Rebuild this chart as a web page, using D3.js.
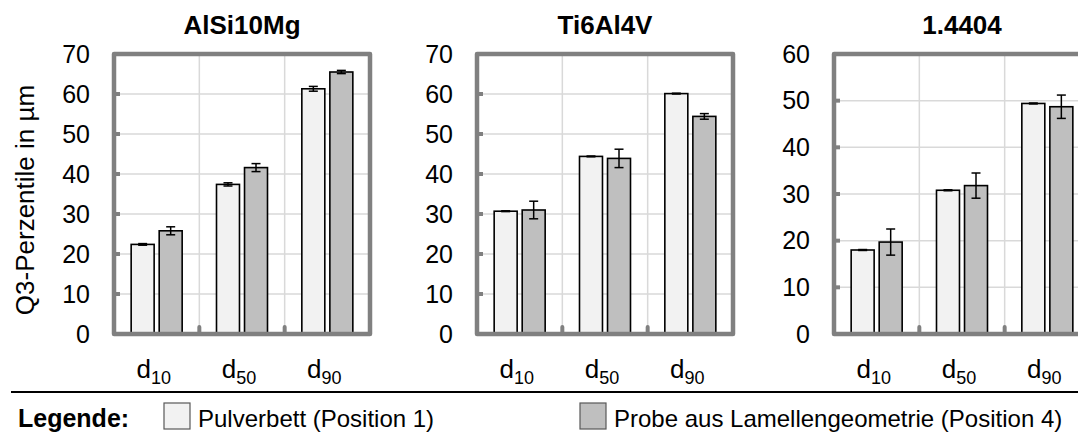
<!doctype html>
<html>

<head>
    <title>Q3-Perzentile</title>
    <script src="https://cdn.jsdelivr.net/npm/d3@7"></script>
    <style>
        body { margin: 0; background: #fff; }
        text { font-family: "Liberation Sans", Arial, sans-serif; fill: #000; }
    </style>
</head>

<body>
    <svg width="1078" height="435"></svg>
    <script>
        // data
        var materials = ["AlSi10Mg", "Ti6Al4V", "1.4404"];
        var categories = ["10", "50", "90"];          // d-subscripts
        var yMax = [70, 70, 60];
        var seriesNames = ["Pulverbett (Position 1)", "Probe aus Lamellengeometrie (Position 4)"];

        var pulverbett = [[22.4, 37.4, 61.3], [30.7, 44.4, 60.1], [18.0, 30.8, 49.4]];
        var pulverbettErr = [[0.2, 0.4, 0.6], [0.1, 0.1, 0.1], [0.1, 0.1, 0.1]];
        var probe = [[25.8, 41.6, 65.5], [31.0, 43.9, 54.4], [19.7, 31.8, 48.7]];
        var probeErr = [[1.0, 1.0, 0.4], [2.2, 2.3, 0.7], [2.8, 2.7, 2.5]];

        var colors = ["#f2f2f2", "#bfbfbf"];
        var frameColor = "#808080";

        var svg = d3.select("svg");
        var panelLeft = [114, 477, 834],
            panelW = 256,
            plotTop = 54,
            plotBottom = 334;

        materials.forEach(function (mat, i) {
            var g = svg.append("g").attr("transform", "translate(" + panelLeft[i] + ",0)");

            var x = d3.scaleBand().domain(categories).range([0, panelW]);
            var xs = d3.scaleBand().domain([0, 1]).range([x.bandwidth() / 2 - 25.5, x.bandwidth() / 2 + 25.5]).paddingInner(0.18);
            var y = d3.scaleLinear().domain([0, yMax[i]]).range([plotBottom, plotTop]);
            var ticks = d3.range(0, yMax[i] + 1, 10);

            // grid
            g.selectAll(".hgrid").data(ticks.slice(1, -1)).enter().append("line")
                .attr("x1", 0).attr("x2", panelW)
                .attr("y1", function (d) { return y(d); }).attr("y2", function (d) { return y(d); })
                .attr("stroke", "#d9d9d9").attr("stroke-width", 1.5);
            g.selectAll(".vgrid").data(categories.slice(1)).enter().append("line")
                .attr("x1", function (d) { return x(d); }).attr("x2", function (d) { return x(d); })
                .attr("y1", plotTop).attr("y2", plotBottom)
                .attr("stroke", "#d9d9d9").attr("stroke-width", 1.5);

            // bars
            var rows = categories.map(function (c, k) {
                return [
                    { cat: c, s: 0, v: pulverbett[i][k], e: pulverbettErr[i][k] },
                    { cat: c, s: 1, v: probe[i][k], e: probeErr[i][k] }
                ];
            });
            var bars = d3.merge(rows);

            g.selectAll(".bar").data(bars).enter().append("rect")
                .attr("x", function (d) { return x(d.cat) + xs(d.s); })
                .attr("y", function (d) { return y(d.v); })
                .attr("width", xs.bandwidth())
                .attr("height", function (d) { return plotBottom - y(d.v); })
                .attr("fill", function (d) { return colors[d.s]; })
                .attr("stroke", "#000").attr("stroke-width", 1.6);

            // error bars
            var eb = g.selectAll(".err").data(bars).enter().append("g")
                .attr("transform", function (d) { return "translate(" + (x(d.cat) + xs(d.s) + xs.bandwidth() / 2) + ",0)"; })
                .attr("stroke", "#000").attr("stroke-width", 1.5);
            eb.append("line").attr("x1", 0).attr("x2", 0)
                .attr("y1", function (d) { return y(d.v + d.e); })
                .attr("y2", function (d) { return y(d.v - d.e); });
            eb.append("line").attr("x1", -4.5).attr("x2", 4.5)
                .attr("y1", function (d) { return y(d.v + d.e); })
                .attr("y2", function (d) { return y(d.v + d.e); });
            eb.append("line").attr("x1", -4.5).attr("x2", 4.5)
                .attr("y1", function (d) { return y(d.v - d.e); })
                .attr("y2", function (d) { return y(d.v - d.e); });

            // frame
            g.append("rect").attr("x", 0).attr("y", plotTop).attr("width", panelW).attr("height", plotBottom - plotTop)
                .attr("fill", "none").attr("stroke", frameColor).attr("stroke-width", 4.5)
                .attr("stroke-linejoin", "round");
            g.selectAll(".ytick").data(ticks.slice(1, -1)).enter().append("line")
                .attr("x1", 0).attr("x2", 6)
                .attr("y1", function (d) { return y(d); }).attr("y2", function (d) { return y(d); })
                .attr("stroke", frameColor).attr("stroke-width", 4);
            g.selectAll(".xtick").data(categories.slice(1)).enter().append("line")
                .attr("x1", function (d) { return x(d); }).attr("x2", function (d) { return x(d); })
                .attr("y1", plotBottom).attr("y2", plotBottom - 7)
                .attr("stroke", frameColor).attr("stroke-width", 4).attr("stroke-linecap", "round");

            // y axis labels
            var ya = g.append("g")
                .call(d3.axisLeft(y).tickValues(ticks).tickSize(0).tickPadding(24));
            ya.select(".domain").remove();
            ya.selectAll("text").attr("font-size", "25px").attr("font-family", null);

            // x labels d with subscript
            var xl = g.selectAll(".xl").data(categories).enter().append("text")
                .attr("x", function (d) { return x(d) + x.bandwidth() / 2 - 3; })
                .attr("y", 378)
                .attr("text-anchor", "middle")
                .attr("font-size", "26px");
            xl.append("tspan").text("d");
            xl.append("tspan").attr("font-size", "18px").attr("dy", 6).text(function (d) { return d; });

            // title
            g.append("text")
                .attr("x", panelW / 2).attr("y", 34)
                .attr("text-anchor", "middle")
                .attr("font-size", "26px").attr("font-weight", "bold")
                .text(mat);
        });

        // y axis title
        svg.append("text")
            .attr("transform", "translate(34,200) rotate(-90)")
            .attr("text-anchor", "middle")
            .attr("font-size", "26px")
            .text("Q3-Perzentile in µm");

        // separator
        svg.append("line").attr("x1", 11).attr("x2", 1078).attr("y1", 392).attr("y2", 392)
            .attr("stroke", "#000").attr("stroke-width", 2);

        // legend
        svg.append("text").attr("x", 18).attr("y", 427)
            .attr("font-size", "25px").attr("font-weight", "bold").text("Legende:");
        var legX = [164, 580];
        var leg = svg.selectAll(".leg").data(seriesNames).enter().append("g")
            .attr("transform", function (d, i) { return "translate(" + legX[i] + ",403)"; });
        leg.append("rect").attr("width", 26).attr("height", 26)
            .attr("fill", function (d, i) { return colors[i]; })
            .attr("stroke", "#595959").attr("stroke-width", 1.2);
        leg.append("text").attr("x", 34).attr("y", 24).attr("font-size", "24px")
            .text(function (d) { return d; });
    </script>
</body>

</html>
